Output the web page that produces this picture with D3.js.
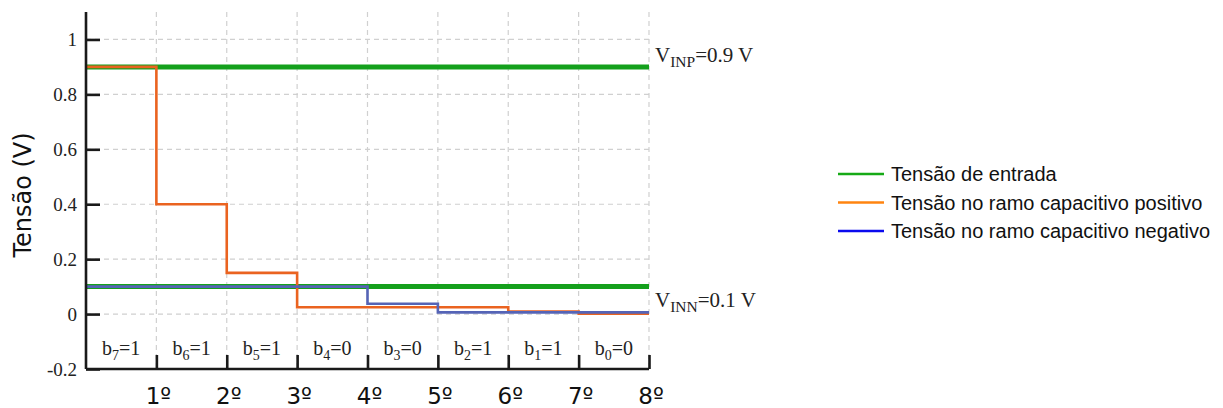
<!DOCTYPE html>
<html>
<head>
<meta charset="utf-8">
<script src="https://cdn.jsdelivr.net/npm/d3@7"></script>
<style>
  html, body { margin: 0; padding: 0; background: #fff; }
  svg { display: block; }
</style>
</head>
<body>
<svg id="chart" width="1223" height="408"></svg>
<script>
// Conversion steps of the SAR (one bit decided per step)
const steps = [0, 1, 2, 3, 4, 5, 6, 7, 8];
const stepLabels = ["1º", "2º", "3º", "4º", "5º", "6º", "7º", "8º"];
const yTicks = [-0.2, 0, 0.2, 0.4, 0.6, 0.8, 1];

// Input voltages
const vInp = 0.9;
const vInn = 0.1;

// Voltage on each capacitive branch during each step
const positiveBranch = [0.9, 0.4, 0.15, 0.025, 0.025, 0.025, 0.009375, 0.0015625];
const negativeBranch = [0.1, 0.1, 0.1, 0.1, 0.0375, 0.00625, 0.00625, 0.00625];

// Decided bits, MSB first
const bitIndex = [7, 6, 5, 4, 3, 2, 1, 0];
const bitValues = [1, 1, 1, 0, 0, 1, 1, 0];

const legendLabels = [
  "Tensão de entrada",
  "Tensão no ramo capacitivo positivo",
  "Tensão no ramo capacitivo negativo"
];

const svg = d3.select("#chart");
const serif = "'Liberation Serif', 'DejaVu Serif', serif";
const sans = "'DejaVu Sans', sans-serif";

const x = d3.scaleLinear().domain([0, 8]).range([86, 649]);
const y = d3.scaleLinear().domain([-0.2, 1.1]).range([369, 12]);

// Grid
const grid = svg.append("g").attr("stroke", "#d0d0d0").attr("stroke-width", 1.2)
  .attr("stroke-dasharray", "5,4").attr("fill", "none");
grid.selectAll("line.h").data(yTicks.filter(d => d > -0.2)).join("line")
  .attr("x1", x(0)).attr("x2", x(8))
  .attr("y1", d => y(d)).attr("y2", d => y(d));
grid.selectAll("line.v").data(steps.slice(1)).join("line")
  .attr("x1", d => x(d)).attr("x2", d => x(d))
  .attr("y1", y(1.1)).attr("y2", y(-0.2));

// Bit labels with white background
const bits = svg.append("g");
bitIndex.forEach((b, i) => {
  const cx = (x(i) + x(i + 1)) / 2;
  bits.append("rect")
    .attr("x", x(i) + 4).attr("y", 337)
    .attr("width", x(i + 1) - x(i) - 8).attr("height", 17)
    .attr("fill", "#fff");
  const t = bits.append("text")
    .attr("x", cx).attr("y", 355)
    .attr("text-anchor", "middle")
    .attr("font-family", serif).attr("font-size", 20).attr("fill", "#222");
  t.append("tspan").text("b");
  t.append("tspan").attr("font-size", 14).attr("dy", 5).text(b);
  t.append("tspan").attr("dy", -5).text("=" + bitValues[i]);
});

// Input voltage lines
const green = "#14a01c";
svg.append("g").selectAll("line").data([vInp, vInn]).join("line")
  .attr("x1", x(0)).attr("x2", x(8))
  .attr("y1", d => y(d)).attr("y2", d => y(d))
  .attr("stroke", green).attr("stroke-width", 5);

// Step lines for the capacitive branches
const stepLine = d3.line()
  .x(d => x(d[0])).y(d => y(d[1]))
  .curve(d3.curveStepAfter);
const toPoints = arr => arr.map((v, i) => [i, v]).concat([[arr.length, arr[arr.length - 1]]]);

svg.append("path").datum(toPoints(positiveBranch))
  .attr("d", stepLine).attr("fill", "none")
  .attr("stroke", "#ea6320").attr("stroke-width", 2.6);
svg.append("path").datum(toPoints(negativeBranch))
  .attr("d", stepLine).attr("fill", "none")
  .attr("stroke", "#5564b6").attr("stroke-width", 2.6);

// Axes
const axisY = d3.axisLeft(y).tickValues(yTicks).tickSize(-14).tickPadding(10)
  .tickFormat(d => String(Math.round(d * 10) / 10));
const gy = svg.append("g").attr("transform", `translate(${x(0)},0)`).call(axisY);
gy.select(".domain").attr("stroke", "#1a1a1a").attr("stroke-width", 2.6)
  .attr("d", `M0,${y(1.1)}V${y(-0.2)}`);
gy.selectAll(".tick line").attr("stroke", "#1a1a1a").attr("stroke-width", 2.6);
gy.selectAll(".tick text").attr("font-family", serif).attr("font-size", 19)
  .attr("fill", "#222").attr("x", -9);

const axisX = d3.axisBottom(x).tickValues(steps.slice(1)).tickSize(-14).tickFormat("");
const gx = svg.append("g").attr("transform", `translate(0,${y(-0.2)})`).call(axisX);
gx.select(".domain").attr("stroke", "#1a1a1a").attr("stroke-width", 2.6)
  .attr("d", `M${x(0)},0H${x(8)}`);
gx.selectAll(".tick line").attr("stroke", "#1a1a1a").attr("stroke-width", 2.6);

// Step labels
svg.append("g").selectAll("text").data(stepLabels).join("text")
  .attr("x", (d, i) => x(i + 1) + 2).attr("y", 404)
  .attr("text-anchor", "middle")
  .attr("font-family", sans).attr("font-size", 23).attr("fill", "#111")
  .text(d => d);

// Y axis title
svg.append("text")
  .attr("transform", "translate(31,195) rotate(-90)")
  .attr("text-anchor", "middle")
  .attr("font-family", sans).attr("font-size", 24).attr("fill", "#111")
  .text("Tensão (V)");

// Input voltage annotations
function vLabel(sub, value, baseline) {
  const t = svg.append("text").attr("x", 655).attr("y", baseline)
    .attr("font-family", serif).attr("font-size", 21).attr("fill", "#222");
  t.append("tspan").text("V");
  t.append("tspan").attr("font-size", 15.5).attr("dy", 5).text(sub);
  t.append("tspan").attr("dy", -5).text("=" + value + " V");
}
vLabel("INP", vInp, 62);
vLabel("INN", vInn, 307);

// Legend
const legendColors = ["#16aa16", "#ff8410", "#0a0aee"];
const legend = svg.append("g");
legendLabels.forEach((label, i) => {
  const ly = 174 + i * 28.5;
  legend.append("line")
    .attr("x1", 838).attr("x2", 884).attr("y1", ly).attr("y2", ly)
    .attr("stroke", legendColors[i]).attr("stroke-width", 2.6);
  legend.append("text")
    .attr("x", 891).attr("y", ly + 7)
    .attr("font-family", "'Liberation Sans', Arial, sans-serif").attr("font-size", 20)
    .attr("fill", "#111").text(label);
});
</script>
</body>
</html>
